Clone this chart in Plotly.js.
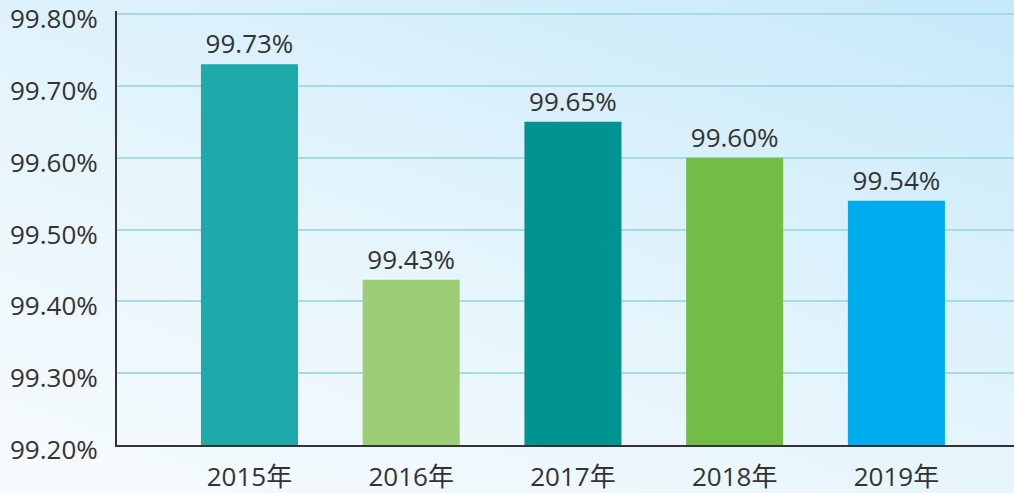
<!DOCTYPE html>
<html><head><meta charset="utf-8">
<script src="https://cdn.plot.ly/plotly-3.0.1.min.js"></script>
<style>
html,body{margin:0;padding:0;}
#wrap{width:1014px;height:493px;background:linear-gradient(20deg,#f7fbfe 0%,#e6f5fc 45%,#c6e9fa 100%);}
#chart{width:1014px;height:493px;}
</style></head><body>
<div id="wrap"><div id="chart"></div></div>
<script>
const years = ['2015年','2016年','2017年','2018年','2019年'];
const values = [99.73, 99.43, 99.65, 99.60, 99.54];
const labels = ['99.73%','99.43%','99.65%','99.60%','99.54%'];
const colors = ['#1eaaab','#9dce76','#009390','#72bd45','#00adef'];
const yTicks = [99.2,99.3,99.4,99.5,99.6,99.7,99.8];

const font = {family:'"Open Sans","Noto Sans CJK SC",sans-serif', size:26, color:'#333333'};
Plotly.newPlot('chart',[{
  type:'bar', x:years, y:values, text:labels, textposition:'outside',
  textfont:font, marker:{color:colors}, width:0.6, cliponaxis:false,
  hoverinfo:'none'
}],{
  width:1014, height:493,
  margin:{l:117,r:0,t:11,b:48},
  paper_bgcolor:'rgba(0,0,0,0)', plot_bgcolor:'rgba(0,0,0,0)',
  font:font, showlegend:false,
  xaxis:{type:'category', range:[-0.819,4.727], showline:true, linecolor:'#333333', linewidth:2,
         ticks:'', showgrid:false, tickfont:font, ticklabelstandoff:8, fixedrange:true, automargin:false},
  yaxis:{range:[99.2,99.8042], tickvals:yTicks, ticktext:yTicks.map(v=>v.toFixed(2)+'%'),
         showline:true, linecolor:'#333333', linewidth:2, ticks:'', showgrid:true,
         gridcolor:'#a6dbe3', gridwidth:2, zeroline:false, tickfont:font, ticklabelstandoff:12,
         ticklabelshift:5, ticklabeloverflow:'allow', fixedrange:true, automargin:false}
},{displayModeBar:false, staticPlot:true});
</script></body></html>
